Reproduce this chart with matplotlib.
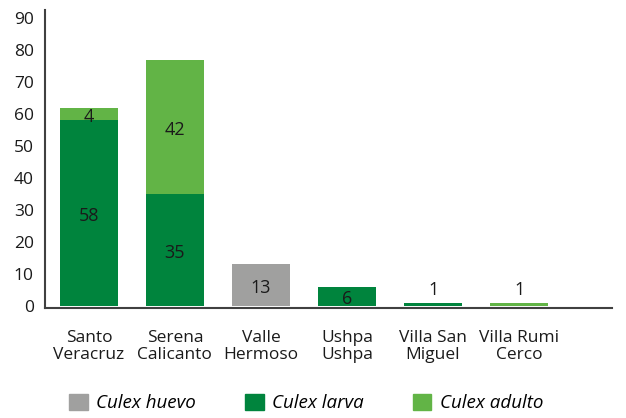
import matplotlib
matplotlib.use("Agg")
import matplotlib.pyplot as plt
from matplotlib.patches import Patch
import numpy as np

plt.rcParams['font.family'] = ['Open Sans', 'DejaVu Sans']

categories = ["Santo\nVeracruz", "Serena\nCalicanto", "Valle\nHermoso", "Ushpa\nUshpa", "Villa San\nMiguel", "Villa Rumi\nCerco"]
huevo = [0, 0, 13, 0, 0, 0]
larva = [58, 35, 0, 6, 1, 0]
adulto = [4, 42, 0, 0, 0, 1]
series_names = ["Culex huevo", "Culex larva", "Culex adulto"]
colors = ["#A0A09F", "#00843D", "#62B446"]
yticks = [0, 10, 20, 30, 40, 50, 60, 70, 80, 90]

fig = plt.figure(figsize=(6.26, 4.18), dpi=100)
ax = fig.add_axes([45/626, 1-308/418, (612-45)/626, (308-10)/418])

x = np.arange(len(categories))
w = 0.675
huevo_a = np.array(huevo, float)
larva_a = np.array(larva, float)
adulto_a = np.array(adulto, float)

b1 = ax.bar(x, huevo_a, w, color=colors[0])
b2 = ax.bar(x, larva_a, w, bottom=huevo_a, color=colors[1])
b3 = ax.bar(x, adulto_a, w, bottom=huevo_a + larva_a, color=colors[2])

def labels(bars, vals):
    for rect, v in zip(bars, vals):
        if v <= 0:
            continue
        cx = rect.get_x() + rect.get_width()/2
        if v <= 2:
            ax.annotate(f"{int(v)}", (cx, rect.get_y() + rect.get_height()),
                        xytext=(0, 3), textcoords="offset points",
                        ha="center", va="bottom", fontsize=13, color="#1a1a1a")
        else:
            ax.annotate(f"{int(v)}", (cx, rect.get_y() + rect.get_height()/2),
                        xytext=(0, -2), textcoords="offset points",
                        ha="center", va="center", fontsize=13, color="#1a1a1a")

labels(b1, huevo_a)
labels(b2, larva_a)
labels(b3, adulto_a)

ax.set_xlim(-0.51, 6.08)
ax.set_ylim(-0.6, 92.5)
ax.set_yticks(yticks)
ax.set_yticklabels([str(t) for t in yticks], fontsize=12.5, color="#1a1a1a")
ax.set_xticks(x)
ax.set_xticklabels(categories, fontsize=12.5, color="#1a1a1a", linespacing=1.1)
ax.tick_params(axis='both', length=0)
ax.tick_params(axis='y', pad=8)
ax.tick_params(axis='x', pad=16)
for s in ["top", "right"]:
    ax.spines[s].set_visible(False)
for s in ["left", "bottom"]:
    ax.spines[s].set_color("#404040")
    ax.spines[s].set_linewidth(1.5)

handles = [Patch(color=c, label=n) for c, n in zip(colors, series_names)]
leg = fig.legend(handles=handles, loc="center", bbox_to_anchor=(0.489, 1-403/418), ncol=3,
                 frameon=False, prop={'style': 'italic', 'size': 13.5},
                 handlelength=1.0, handleheight=1.0, handletextpad=0.45, columnspacing=2.6)

fig.savefig("out.png", dpi=100)
